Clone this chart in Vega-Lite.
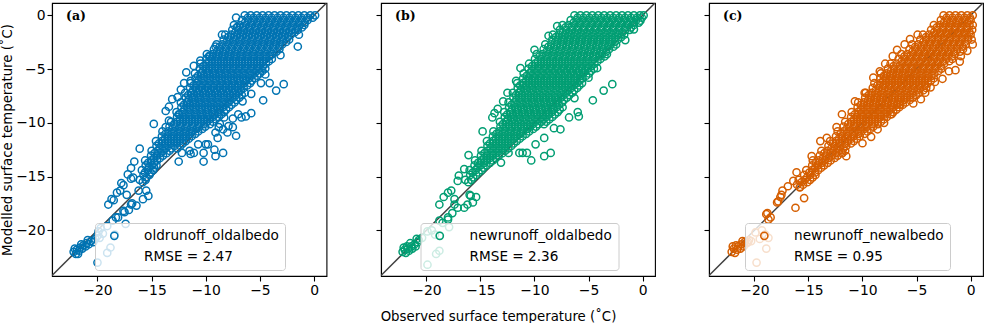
{
"$schema":"https://vega.github.io/schema/vega-lite/v6.json",
"padding":{"left":0,"top":2,"right":0,"bottom":0},
"bounds":"flush",
"spacing":54,
"config":{
"font":"DejaVu Sans",
"view":{"stroke":"black","strokeWidth":1.1},
"axis":{"grid":false,"domainColor":"black","domainWidth":1.1,"tickColor":"black","tickWidth":1.1,"tickSize":5,"labelFont":"DejaVu Sans","labelFontSize":13.9,"labelColor":"black","labelPadding":2,"labelFlush":false,"labelOverlap":false,"titleFont":"DejaVu Sans","titleFontSize":13.3,"titleFontWeight":"normal","titleColor":"black"},
"legend":{"fillColor":"rgba(255,255,255,0.8)","strokeColor":"#cccccc","cornerRadius":3,"padding":6,"labelFont":"DejaVu Sans","labelFontSize":13.6,"labelColor":"black","labelLimit":300,"symbolType":"circle","symbolSize":52,"symbolStrokeWidth":1.5,"symbolFillColor":"transparent","symbolOffset":6.5,"labelOffset":23,"rowPadding":6}
},
"datasets":{
"diag":[{"obs":-26,"mod":-26},{"obs":3,"mod":3}],
"a":[
{"obs":-6.4,"mod":0},{"obs":-5.85,"mod":0},{"obs":-5.3,"mod":0},{"obs":-4.75,"mod":0},{"obs":-4.2,"mod":0},{"obs":-3.65,"mod":0},{"obs":-3.1,"mod":0},{"obs":-2.55,"mod":0},{"obs":-2,"mod":0},{"obs":-1.45,"mod":0},{"obs":-0.9,"mod":0},{"obs":-0.35,"mod":0},{"obs":0.1,"mod":0},
{"obs":-6.65,"mod":-0.45},{"obs":-6.1,"mod":-0.45},{"obs":-5.55,"mod":-0.45},{"obs":-5,"mod":-0.45},{"obs":-4.45,"mod":-0.45},{"obs":-3.9,"mod":-0.45},{"obs":-3.35,"mod":-0.45},{"obs":-2.8,"mod":-0.45},{"obs":-2.25,"mod":-0.45},{"obs":-1.7,"mod":-0.45},{"obs":-1.15,"mod":-0.45},{"obs":-0.6,"mod":-0.45},
{"obs":-7.4,"mod":-0.9},{"obs":-6.85,"mod":-0.9},{"obs":-6.3,"mod":-0.9},{"obs":-5.75,"mod":-0.9},{"obs":-5.2,"mod":-0.9},{"obs":-4.65,"mod":-0.9},{"obs":-4.1,"mod":-0.9},{"obs":-3.55,"mod":-0.9},{"obs":-3,"mod":-0.9},{"obs":-2.45,"mod":-0.9},{"obs":-1.9,"mod":-0.9},{"obs":-1.35,"mod":-0.9},{"obs":-0.9,"mod":-0.9},
{"obs":-7.55,"mod":-1.35},{"obs":-7,"mod":-1.35},{"obs":-6.45,"mod":-1.35},{"obs":-5.9,"mod":-1.35},{"obs":-5.35,"mod":-1.35},{"obs":-4.8,"mod":-1.35},{"obs":-4.25,"mod":-1.35},{"obs":-3.7,"mod":-1.35},{"obs":-3.15,"mod":-1.35},{"obs":-2.6,"mod":-1.35},{"obs":-2.05,"mod":-1.35},{"obs":-1.5,"mod":-1.35},
{"obs":-8.2,"mod":-1.8},{"obs":-7.65,"mod":-1.8},{"obs":-7.1,"mod":-1.8},{"obs":-6.55,"mod":-1.8},{"obs":-6,"mod":-1.8},{"obs":-5.45,"mod":-1.8},{"obs":-4.9,"mod":-1.8},{"obs":-4.35,"mod":-1.8},{"obs":-3.8,"mod":-1.8},{"obs":-3.25,"mod":-1.8},{"obs":-2.7,"mod":-1.8},{"obs":-2.15,"mod":-1.8},
{"obs":-8.35,"mod":-2.25},{"obs":-7.8,"mod":-2.25},{"obs":-7.25,"mod":-2.25},{"obs":-6.7,"mod":-2.25},{"obs":-6.15,"mod":-2.25},{"obs":-5.6,"mod":-2.25},{"obs":-5.05,"mod":-2.25},{"obs":-4.5,"mod":-2.25},{"obs":-3.95,"mod":-2.25},{"obs":-3.4,"mod":-2.25},{"obs":-2.85,"mod":-2.25},{"obs":-2.3,"mod":-2.25},
{"obs":-9,"mod":-2.7},{"obs":-8.45,"mod":-2.7},{"obs":-7.9,"mod":-2.7},{"obs":-7.35,"mod":-2.7},{"obs":-6.8,"mod":-2.7},{"obs":-6.25,"mod":-2.7},{"obs":-5.7,"mod":-2.7},{"obs":-5.15,"mod":-2.7},{"obs":-4.6,"mod":-2.7},{"obs":-4.05,"mod":-2.7},{"obs":-3.5,"mod":-2.7},{"obs":-2.95,"mod":-2.7},
{"obs":-9.25,"mod":-3.15},{"obs":-8.7,"mod":-3.15},{"obs":-8.15,"mod":-3.15},{"obs":-7.6,"mod":-3.15},{"obs":-7.05,"mod":-3.15},{"obs":-6.5,"mod":-3.15},{"obs":-5.95,"mod":-3.15},{"obs":-5.4,"mod":-3.15},{"obs":-4.85,"mod":-3.15},{"obs":-4.3,"mod":-3.15},{"obs":-3.75,"mod":-3.15},{"obs":-3.2,"mod":-3.15},
{"obs":-9.9,"mod":-3.6},{"obs":-9.35,"mod":-3.6},{"obs":-8.8,"mod":-3.6},{"obs":-8.25,"mod":-3.6},{"obs":-7.7,"mod":-3.6},{"obs":-7.15,"mod":-3.6},{"obs":-6.6,"mod":-3.6},{"obs":-6.05,"mod":-3.6},{"obs":-5.5,"mod":-3.6},{"obs":-4.95,"mod":-3.6},{"obs":-4.4,"mod":-3.6},{"obs":-3.85,"mod":-3.6},
{"obs":-9.95,"mod":-4.05},{"obs":-9.4,"mod":-4.05},{"obs":-8.85,"mod":-4.05},{"obs":-8.3,"mod":-4.05},{"obs":-7.75,"mod":-4.05},{"obs":-7.2,"mod":-4.05},{"obs":-6.65,"mod":-4.05},{"obs":-6.1,"mod":-4.05},{"obs":-5.55,"mod":-4.05},{"obs":-5,"mod":-4.05},{"obs":-4.45,"mod":-4.05},{"obs":-3.9,"mod":-4.05},
{"obs":-10.5,"mod":-4.5},{"obs":-9.95,"mod":-4.5},{"obs":-9.4,"mod":-4.5},{"obs":-8.85,"mod":-4.5},{"obs":-8.3,"mod":-4.5},{"obs":-7.75,"mod":-4.5},{"obs":-7.2,"mod":-4.5},{"obs":-6.65,"mod":-4.5},{"obs":-6.1,"mod":-4.5},{"obs":-5.55,"mod":-4.5},{"obs":-5,"mod":-4.5},{"obs":-4.45,"mod":-4.5},
{"obs":-10.55,"mod":-4.95},{"obs":-10,"mod":-4.95},{"obs":-9.45,"mod":-4.95},{"obs":-8.9,"mod":-4.95},{"obs":-8.35,"mod":-4.95},{"obs":-7.8,"mod":-4.95},{"obs":-7.25,"mod":-4.95},{"obs":-6.7,"mod":-4.95},{"obs":-6.15,"mod":-4.95},{"obs":-5.6,"mod":-4.95},{"obs":-5.05,"mod":-4.95},{"obs":-4.5,"mod":-4.95},
{"obs":-11,"mod":-5.4},{"obs":-10.45,"mod":-5.4},{"obs":-9.9,"mod":-5.4},{"obs":-9.35,"mod":-5.4},{"obs":-8.8,"mod":-5.4},{"obs":-8.25,"mod":-5.4},{"obs":-7.7,"mod":-5.4},{"obs":-7.15,"mod":-5.4},{"obs":-6.6,"mod":-5.4},{"obs":-6.05,"mod":-5.4},{"obs":-5.5,"mod":-5.4},{"obs":-5,"mod":-5.4},
{"obs":-10.95,"mod":-5.85},{"obs":-10.4,"mod":-5.85},{"obs":-9.85,"mod":-5.85},{"obs":-9.3,"mod":-5.85},{"obs":-8.75,"mod":-5.85},{"obs":-8.2,"mod":-5.85},{"obs":-7.65,"mod":-5.85},{"obs":-7.1,"mod":-5.85},{"obs":-6.55,"mod":-5.85},{"obs":-6,"mod":-5.85},{"obs":-5.5,"mod":-5.85},
{"obs":-11.4,"mod":-6.3},{"obs":-10.85,"mod":-6.3},{"obs":-10.3,"mod":-6.3},{"obs":-9.75,"mod":-6.3},{"obs":-9.2,"mod":-6.3},{"obs":-8.65,"mod":-6.3},{"obs":-8.1,"mod":-6.3},{"obs":-7.55,"mod":-6.3},{"obs":-7,"mod":-6.3},{"obs":-6.45,"mod":-6.3},{"obs":-5.9,"mod":-6.3},
{"obs":-11.45,"mod":-6.75},{"obs":-10.9,"mod":-6.75},{"obs":-10.35,"mod":-6.75},{"obs":-9.8,"mod":-6.75},{"obs":-9.25,"mod":-6.75},{"obs":-8.7,"mod":-6.75},{"obs":-8.15,"mod":-6.75},{"obs":-7.6,"mod":-6.75},{"obs":-7.05,"mod":-6.75},{"obs":-6.5,"mod":-6.75},
{"obs":-11.9,"mod":-7.2},{"obs":-11.35,"mod":-7.2},{"obs":-10.8,"mod":-7.2},{"obs":-10.25,"mod":-7.2},{"obs":-9.7,"mod":-7.2},{"obs":-9.15,"mod":-7.2},{"obs":-8.6,"mod":-7.2},{"obs":-8.05,"mod":-7.2},{"obs":-7.5,"mod":-7.2},{"obs":-6.95,"mod":-7.2},{"obs":-6.4,"mod":-7.2},
{"obs":-11.85,"mod":-7.65},{"obs":-11.3,"mod":-7.65},{"obs":-10.75,"mod":-7.65},{"obs":-10.2,"mod":-7.65},{"obs":-9.65,"mod":-7.65},{"obs":-9.1,"mod":-7.65},{"obs":-8.55,"mod":-7.65},{"obs":-8,"mod":-7.65},{"obs":-7.45,"mod":-7.65},{"obs":-6.9,"mod":-7.65},
{"obs":-12.3,"mod":-8.1},{"obs":-11.75,"mod":-8.1},{"obs":-11.2,"mod":-8.1},{"obs":-10.65,"mod":-8.1},{"obs":-10.1,"mod":-8.1},{"obs":-9.55,"mod":-8.1},{"obs":-9,"mod":-8.1},{"obs":-8.45,"mod":-8.1},{"obs":-7.9,"mod":-8.1},{"obs":-7.35,"mod":-8.1},
{"obs":-12.25,"mod":-8.55},{"obs":-11.7,"mod":-8.55},{"obs":-11.15,"mod":-8.55},{"obs":-10.6,"mod":-8.55},{"obs":-10.05,"mod":-8.55},{"obs":-9.5,"mod":-8.55},{"obs":-8.95,"mod":-8.55},{"obs":-8.4,"mod":-8.55},{"obs":-7.85,"mod":-8.55},
{"obs":-12.7,"mod":-9},{"obs":-12.15,"mod":-9},{"obs":-11.6,"mod":-9},{"obs":-11.05,"mod":-9},{"obs":-10.5,"mod":-9},{"obs":-9.95,"mod":-9},{"obs":-9.4,"mod":-9},{"obs":-8.85,"mod":-9},{"obs":-8.3,"mod":-9},
{"obs":-12.65,"mod":-9.45},{"obs":-12.1,"mod":-9.45},{"obs":-11.55,"mod":-9.45},{"obs":-11,"mod":-9.45},{"obs":-10.45,"mod":-9.45},{"obs":-9.9,"mod":-9.45},{"obs":-9.35,"mod":-9.45},{"obs":-8.8,"mod":-9.45},
{"obs":-13.2,"mod":-9.9},{"obs":-12.65,"mod":-9.9},{"obs":-12.1,"mod":-9.9},{"obs":-11.55,"mod":-9.9},{"obs":-11,"mod":-9.9},{"obs":-10.45,"mod":-9.9},{"obs":-9.9,"mod":-9.9},{"obs":-9.35,"mod":-9.9},
{"obs":-13.35,"mod":-10.35},{"obs":-12.8,"mod":-10.35},{"obs":-12.25,"mod":-10.35},{"obs":-11.7,"mod":-10.35},{"obs":-11.15,"mod":-10.35},{"obs":-10.6,"mod":-10.35},{"obs":-10.05,"mod":-10.35},
{"obs":-14,"mod":-10.8},{"obs":-13.45,"mod":-10.8},{"obs":-12.9,"mod":-10.8},{"obs":-12.35,"mod":-10.8},{"obs":-11.8,"mod":-10.8},{"obs":-11.25,"mod":-10.8},{"obs":-10.7,"mod":-10.8},
{"obs":-14.05,"mod":-11.25},{"obs":-13.5,"mod":-11.25},{"obs":-12.95,"mod":-11.25},{"obs":-12.4,"mod":-11.25},{"obs":-11.85,"mod":-11.25},{"obs":-11.3,"mod":-11.25},
{"obs":-14.6,"mod":-11.7},{"obs":-14.05,"mod":-11.7},{"obs":-13.5,"mod":-11.7},{"obs":-12.95,"mod":-11.7},{"obs":-12.4,"mod":-11.7},{"obs":-11.85,"mod":-11.7},
{"obs":-14.55,"mod":-12.15},{"obs":-14,"mod":-12.15},{"obs":-13.45,"mod":-12.15},{"obs":-12.9,"mod":-12.15},{"obs":-12.35,"mod":-12.15},
{"obs":-15,"mod":-12.6},{"obs":-14.45,"mod":-12.6},{"obs":-13.9,"mod":-12.6},{"obs":-13.35,"mod":-12.6},
{"obs":-15.05,"mod":-13.05},{"obs":-14.5,"mod":-13.05},{"obs":-13.95,"mod":-13.05},
{"obs":-15.6,"mod":-13.5},{"obs":-15.05,"mod":-13.5},{"obs":-14.5,"mod":-13.5},
{"obs":-15.55,"mod":-13.95},{"obs":-15,"mod":-13.95},{"obs":-14.55,"mod":-13.95},
{"obs":-15.9,"mod":-14.4},{"obs":-15.35,"mod":-14.4},{"obs":-14.85,"mod":-14.4},
{"obs":-15.75,"mod":-14.85},{"obs":-15.2,"mod":-14.85},
{"obs":-16.1,"mod":-15.3},{"obs":-15.55,"mod":-15.3},
{"obs":-6.12,"mod":-0.22},{"obs":-5.57,"mod":-0.22},{"obs":-5.02,"mod":-0.22},{"obs":-4.47,"mod":-0.22},{"obs":-3.92,"mod":-0.22},{"obs":-3.37,"mod":-0.22},{"obs":-2.82,"mod":-0.22},{"obs":-2.27,"mod":-0.22},{"obs":-1.72,"mod":-0.22},{"obs":-1.17,"mod":-0.22},{"obs":-0.62,"mod":-0.22},{"obs":-0.12,"mod":-0.22},
{"obs":-6.37,"mod":-0.67},{"obs":-5.82,"mod":-0.67},{"obs":-5.27,"mod":-0.67},{"obs":-4.72,"mod":-0.67},{"obs":-4.17,"mod":-0.67},{"obs":-3.62,"mod":-0.67},{"obs":-3.07,"mod":-0.67},{"obs":-2.52,"mod":-0.67},{"obs":-1.97,"mod":-0.67},{"obs":-1.42,"mod":-0.67},{"obs":-0.87,"mod":-0.67},
{"obs":-7.12,"mod":-1.12},{"obs":-6.57,"mod":-1.12},{"obs":-6.02,"mod":-1.12},{"obs":-5.47,"mod":-1.12},{"obs":-4.92,"mod":-1.12},{"obs":-4.37,"mod":-1.12},{"obs":-3.82,"mod":-1.12},{"obs":-3.27,"mod":-1.12},{"obs":-2.72,"mod":-1.12},{"obs":-2.17,"mod":-1.12},{"obs":-1.62,"mod":-1.12},{"obs":-1.12,"mod":-1.12},
{"obs":-7.27,"mod":-1.57},{"obs":-6.72,"mod":-1.57},{"obs":-6.17,"mod":-1.57},{"obs":-5.62,"mod":-1.57},{"obs":-5.07,"mod":-1.57},{"obs":-4.52,"mod":-1.57},{"obs":-3.97,"mod":-1.57},{"obs":-3.42,"mod":-1.57},{"obs":-2.87,"mod":-1.57},{"obs":-2.32,"mod":-1.57},{"obs":-1.77,"mod":-1.57},
{"obs":-7.92,"mod":-2.02},{"obs":-7.37,"mod":-2.02},{"obs":-6.82,"mod":-2.02},{"obs":-6.27,"mod":-2.02},{"obs":-5.72,"mod":-2.02},{"obs":-5.17,"mod":-2.02},{"obs":-4.62,"mod":-2.02},{"obs":-4.07,"mod":-2.02},{"obs":-3.52,"mod":-2.02},{"obs":-2.97,"mod":-2.02},{"obs":-2.42,"mod":-2.02},
{"obs":-8.07,"mod":-2.47},{"obs":-7.52,"mod":-2.47},{"obs":-6.97,"mod":-2.47},{"obs":-6.42,"mod":-2.47},{"obs":-5.87,"mod":-2.47},{"obs":-5.32,"mod":-2.47},{"obs":-4.77,"mod":-2.47},{"obs":-4.22,"mod":-2.47},{"obs":-3.67,"mod":-2.47},{"obs":-3.12,"mod":-2.47},{"obs":-2.57,"mod":-2.47},
{"obs":-8.72,"mod":-2.92},{"obs":-8.17,"mod":-2.92},{"obs":-7.62,"mod":-2.92},{"obs":-7.07,"mod":-2.92},{"obs":-6.52,"mod":-2.92},{"obs":-5.97,"mod":-2.92},{"obs":-5.42,"mod":-2.92},{"obs":-4.87,"mod":-2.92},{"obs":-4.32,"mod":-2.92},{"obs":-3.77,"mod":-2.92},{"obs":-3.22,"mod":-2.92},
{"obs":-8.97,"mod":-3.37},{"obs":-8.42,"mod":-3.37},{"obs":-7.87,"mod":-3.37},{"obs":-7.32,"mod":-3.37},{"obs":-6.77,"mod":-3.37},{"obs":-6.22,"mod":-3.37},{"obs":-5.67,"mod":-3.37},{"obs":-5.12,"mod":-3.37},{"obs":-4.57,"mod":-3.37},{"obs":-4.02,"mod":-3.37},{"obs":-3.47,"mod":-3.37},
{"obs":-9.62,"mod":-3.82},{"obs":-9.07,"mod":-3.82},{"obs":-8.52,"mod":-3.82},{"obs":-7.97,"mod":-3.82},{"obs":-7.42,"mod":-3.82},{"obs":-6.87,"mod":-3.82},{"obs":-6.32,"mod":-3.82},{"obs":-5.77,"mod":-3.82},{"obs":-5.22,"mod":-3.82},{"obs":-4.67,"mod":-3.82},{"obs":-4.12,"mod":-3.82},
{"obs":-9.67,"mod":-4.27},{"obs":-9.12,"mod":-4.27},{"obs":-8.57,"mod":-4.27},{"obs":-8.02,"mod":-4.27},{"obs":-7.47,"mod":-4.27},{"obs":-6.92,"mod":-4.27},{"obs":-6.37,"mod":-4.27},{"obs":-5.82,"mod":-4.27},{"obs":-5.27,"mod":-4.27},{"obs":-4.72,"mod":-4.27},{"obs":-4.17,"mod":-4.27},
{"obs":-10.22,"mod":-4.72},{"obs":-9.67,"mod":-4.72},{"obs":-9.12,"mod":-4.72},{"obs":-8.57,"mod":-4.72},{"obs":-8.02,"mod":-4.72},{"obs":-7.47,"mod":-4.72},{"obs":-6.92,"mod":-4.72},{"obs":-6.37,"mod":-4.72},{"obs":-5.82,"mod":-4.72},{"obs":-5.27,"mod":-4.72},{"obs":-4.72,"mod":-4.72},
{"obs":-10.27,"mod":-5.17},{"obs":-9.72,"mod":-5.17},{"obs":-9.17,"mod":-5.17},{"obs":-8.62,"mod":-5.17},{"obs":-8.07,"mod":-5.17},{"obs":-7.52,"mod":-5.17},{"obs":-6.97,"mod":-5.17},{"obs":-6.42,"mod":-5.17},{"obs":-5.87,"mod":-5.17},{"obs":-5.32,"mod":-5.17},{"obs":-4.77,"mod":-5.17},
{"obs":-10.72,"mod":-5.62},{"obs":-10.17,"mod":-5.62},{"obs":-9.62,"mod":-5.62},{"obs":-9.07,"mod":-5.62},{"obs":-8.52,"mod":-5.62},{"obs":-7.97,"mod":-5.62},{"obs":-7.42,"mod":-5.62},{"obs":-6.87,"mod":-5.62},{"obs":-6.32,"mod":-5.62},{"obs":-5.77,"mod":-5.62},{"obs":-5.25,"mod":-5.62},
{"obs":-10.67,"mod":-6.07},{"obs":-10.12,"mod":-6.07},{"obs":-9.57,"mod":-6.07},{"obs":-9.02,"mod":-6.07},{"obs":-8.47,"mod":-6.07},{"obs":-7.92,"mod":-6.07},{"obs":-7.37,"mod":-6.07},{"obs":-6.82,"mod":-6.07},{"obs":-6.27,"mod":-6.07},{"obs":-5.75,"mod":-6.07},
{"obs":-11.12,"mod":-6.52},{"obs":-10.57,"mod":-6.52},{"obs":-10.02,"mod":-6.52},{"obs":-9.47,"mod":-6.52},{"obs":-8.92,"mod":-6.52},{"obs":-8.37,"mod":-6.52},{"obs":-7.82,"mod":-6.52},{"obs":-7.27,"mod":-6.52},{"obs":-6.72,"mod":-6.52},{"obs":-6.17,"mod":-6.52},
{"obs":-11.17,"mod":-6.97},{"obs":-10.62,"mod":-6.97},{"obs":-10.07,"mod":-6.97},{"obs":-9.52,"mod":-6.97},{"obs":-8.97,"mod":-6.97},{"obs":-8.42,"mod":-6.97},{"obs":-7.87,"mod":-6.97},{"obs":-7.32,"mod":-6.97},{"obs":-6.77,"mod":-6.97},
{"obs":-11.62,"mod":-7.42},{"obs":-11.07,"mod":-7.42},{"obs":-10.52,"mod":-7.42},{"obs":-9.97,"mod":-7.42},{"obs":-9.42,"mod":-7.42},{"obs":-8.87,"mod":-7.42},{"obs":-8.32,"mod":-7.42},{"obs":-7.77,"mod":-7.42},{"obs":-7.22,"mod":-7.42},{"obs":-6.67,"mod":-7.42},
{"obs":-11.57,"mod":-7.87},{"obs":-11.02,"mod":-7.87},{"obs":-10.47,"mod":-7.87},{"obs":-9.92,"mod":-7.87},{"obs":-9.37,"mod":-7.87},{"obs":-8.82,"mod":-7.87},{"obs":-8.27,"mod":-7.87},{"obs":-7.72,"mod":-7.87},{"obs":-7.17,"mod":-7.87},
{"obs":-12.02,"mod":-8.32},{"obs":-11.47,"mod":-8.32},{"obs":-10.92,"mod":-8.32},{"obs":-10.37,"mod":-8.32},{"obs":-9.82,"mod":-8.32},{"obs":-9.27,"mod":-8.32},{"obs":-8.72,"mod":-8.32},{"obs":-8.17,"mod":-8.32},{"obs":-7.62,"mod":-8.32},
{"obs":-11.97,"mod":-8.77},{"obs":-11.42,"mod":-8.77},{"obs":-10.87,"mod":-8.77},{"obs":-10.32,"mod":-8.77},{"obs":-9.77,"mod":-8.77},{"obs":-9.22,"mod":-8.77},{"obs":-8.67,"mod":-8.77},{"obs":-8.12,"mod":-8.77},
{"obs":-12.42,"mod":-9.22},{"obs":-11.87,"mod":-9.22},{"obs":-11.32,"mod":-9.22},{"obs":-10.77,"mod":-9.22},{"obs":-10.22,"mod":-9.22},{"obs":-9.67,"mod":-9.22},{"obs":-9.12,"mod":-9.22},{"obs":-8.57,"mod":-9.22},
{"obs":-12.37,"mod":-9.67},{"obs":-11.82,"mod":-9.67},{"obs":-11.27,"mod":-9.67},{"obs":-10.72,"mod":-9.67},{"obs":-10.17,"mod":-9.67},{"obs":-9.62,"mod":-9.67},{"obs":-9.07,"mod":-9.67},
{"obs":-12.92,"mod":-10.12},{"obs":-12.37,"mod":-10.12},{"obs":-11.82,"mod":-10.12},{"obs":-11.27,"mod":-10.12},{"obs":-10.72,"mod":-10.12},{"obs":-10.17,"mod":-10.12},{"obs":-9.62,"mod":-10.12},
{"obs":-13.07,"mod":-10.57},{"obs":-12.52,"mod":-10.57},{"obs":-11.97,"mod":-10.57},{"obs":-11.42,"mod":-10.57},{"obs":-10.87,"mod":-10.57},{"obs":-10.32,"mod":-10.57},
{"obs":-13.72,"mod":-11.02},{"obs":-13.17,"mod":-11.02},{"obs":-12.62,"mod":-11.02},{"obs":-12.07,"mod":-11.02},{"obs":-11.52,"mod":-11.02},{"obs":-10.97,"mod":-11.02},
{"obs":-13.77,"mod":-11.47},{"obs":-13.22,"mod":-11.47},{"obs":-12.67,"mod":-11.47},{"obs":-12.12,"mod":-11.47},{"obs":-11.57,"mod":-11.47},
{"obs":-14.32,"mod":-11.92},{"obs":-13.77,"mod":-11.92},{"obs":-13.22,"mod":-11.92},{"obs":-12.67,"mod":-11.92},{"obs":-12.12,"mod":-11.92},
{"obs":-14.27,"mod":-12.37},{"obs":-13.72,"mod":-12.37},{"obs":-13.17,"mod":-12.37},{"obs":-12.62,"mod":-12.37},
{"obs":-14.72,"mod":-12.82},{"obs":-14.17,"mod":-12.82},{"obs":-13.62,"mod":-12.82},
{"obs":-14.77,"mod":-13.27},{"obs":-14.22,"mod":-13.27},
{"obs":-15.32,"mod":-13.72},{"obs":-14.77,"mod":-13.72},
{"obs":-15.27,"mod":-14.17},{"obs":-14.77,"mod":-14.17},
{"obs":-15.62,"mod":-14.62},{"obs":-15.1,"mod":-14.62},
{"obs":-15.47,"mod":-15.07},{"obs":-15.82,"mod":-15.52},
{"obs":-7.2,"mod":-0.2},{"obs":-7.1,"mod":-1.1},{"obs":-8.5,"mod":-1.8},{"obs":-9.1,"mod":-2.9},{"obs":-9.7,"mod":-3.8},{"obs":-10.5,"mod":-4.2},{"obs":-11.1,"mod":-4.7},{"obs":-11.8,"mod":-5.3},{"obs":-11.4,"mod":-6.1},{"obs":-12.3,"mod":-6.9},{"obs":-13.1,"mod":-7.8},{"obs":-12.6,"mod":-7.6},{"obs":-13.7,"mod":-8.9},{"obs":-13.4,"mod":-8.5},{"obs":-13.4,"mod":-9.8},{"obs":-12.5,"mod":-9.2},{"obs":-13.7,"mod":-10.4},{"obs":-14.8,"mod":-10.1},{"obs":-12,"mod":-6.3},
{"obs":-1.4,"mod":-1.8},{"obs":-1.5,"mod":-2.9},{"obs":-3.1,"mod":-3.7},{"obs":-2.8,"mod":-6.4},{"obs":-3.5,"mod":-7},{"obs":-4.7,"mod":-7.9},{"obs":-4.9,"mod":-6.3},{"obs":-4.1,"mod":-6.3},{"obs":-4.5,"mod":-5.5},{"obs":-5.8,"mod":-7.3},{"obs":-6.6,"mod":-8},{"obs":-5.8,"mod":-9.1},{"obs":-6.7,"mod":-9.5},{"obs":-7.5,"mod":-9.6},{"obs":-8.3,"mod":-9.5},{"obs":-8.8,"mod":-10.4},{"obs":-9.1,"mod":-10.9},{"obs":-8.9,"mod":-11.4},{"obs":-8,"mod":-10.9},{"obs":-7.5,"mod":-10.4},{"obs":-7.2,"mod":-11.2},{"obs":-8.4,"mod":-10.6},{"obs":-10,"mod":-12},{"obs":-10.7,"mod":-12},{"obs":-9.8,"mod":-12},{"obs":-10.2,"mod":-12.8},{"obs":-9.2,"mod":-12.5},{"obs":-8.4,"mod":-12.8},{"obs":-9.1,"mod":-13.1},{"obs":-10.2,"mod":-13.6},{"obs":-11.1,"mod":-12.8},{"obs":-11.4,"mod":-12.9},{"obs":-11.5,"mod":-12.6},{"obs":-12.2,"mod":-12.8},{"obs":-12.5,"mod":-13.6},{"obs":-6.3,"mod":-9.4},{"obs":-7,"mod":-9.2},{"obs":-7.9,"mod":-10.3},{"obs":-8.7,"mod":-10.1},
{"obs":-16.1,"mod":-12.4},{"obs":-16.6,"mod":-13.6},{"obs":-16.9,"mod":-14.2},{"obs":-17.2,"mod":-14.8},{"obs":-16.9,"mod":-15.2},{"obs":-17.8,"mod":-15.6},{"obs":-17.6,"mod":-15.8},{"obs":-17.9,"mod":-16.3},{"obs":-18.2,"mod":-16.5},{"obs":-17.3,"mod":-16.7},{"obs":-18.7,"mod":-17.1},{"obs":-19,"mod":-17.6},{"obs":-18.5,"mod":-17.2},{"obs":-16.7,"mod":-15.1},{"obs":-15.5,"mod":-16.3},{"obs":-15.3,"mod":-16.8},{"obs":-15.8,"mod":-17.1},{"obs":-16.9,"mod":-17.6},{"obs":-16.4,"mod":-17.7},{"obs":-17.6,"mod":-18.2},{"obs":-18.1,"mod":-18.8},{"obs":-17.1,"mod":-18.1},{"obs":-17.5,"mod":-18.3},{"obs":-18.6,"mod":-19.1},{"obs":-19.1,"mod":-19.6},{"obs":-18.3,"mod":-18.8},{"obs":-16.8,"mod":-17.5},{"obs":-16.2,"mod":-16.3},
{"obs":-18.4,"mod":-20.4},{"obs":-19.8,"mod":-20.7},{"obs":-19.5,"mod":-20.3},{"obs":-20,"mod":-20.5},{"obs":-18.8,"mod":-21.6},{"obs":-19.1,"mod":-22.1},{"obs":-20,"mod":-23},{"obs":-19.9,"mod":-20.1},{"obs":-17.4,"mod":-19.4},{"obs":-19.7,"mod":-19.8},
{"obs":-22.2,"mod":-22},{"obs":-22,"mod":-22.2},{"obs":-21.9,"mod":-21.8},{"obs":-21.7,"mod":-21.9},{"obs":-21.6,"mod":-21.6},{"obs":-21.4,"mod":-21.7},{"obs":-21.3,"mod":-21.4},{"obs":-21.1,"mod":-21.5},{"obs":-21,"mod":-21.2},{"obs":-20.8,"mod":-21.3},{"obs":-20.6,"mod":-21},{"obs":-20.4,"mod":-21.1},{"obs":-20.2,"mod":-20.8},{"obs":-21.8,"mod":-22.2},{"obs":-21.5,"mod":-21.3},{"obs":-20.9,"mod":-20.9},{"obs":-22.1,"mod":-21.7}
],
"b":[
{"obs":-6.3,"mod":0},{"obs":-5.75,"mod":0},{"obs":-5.2,"mod":0},{"obs":-4.65,"mod":0},{"obs":-4.1,"mod":0},{"obs":-3.55,"mod":0},{"obs":-3,"mod":0},{"obs":-2.45,"mod":0},{"obs":-1.9,"mod":0},{"obs":-1.35,"mod":0},{"obs":-0.8,"mod":0},{"obs":-0.25,"mod":0},{"obs":0.1,"mod":0},
{"obs":-6.65,"mod":-0.45},{"obs":-6.1,"mod":-0.45},{"obs":-5.55,"mod":-0.45},{"obs":-5,"mod":-0.45},{"obs":-4.45,"mod":-0.45},{"obs":-3.9,"mod":-0.45},{"obs":-3.35,"mod":-0.45},{"obs":-2.8,"mod":-0.45},{"obs":-2.25,"mod":-0.45},{"obs":-1.7,"mod":-0.45},{"obs":-1.15,"mod":-0.45},{"obs":-0.6,"mod":-0.45},
{"obs":-7.4,"mod":-0.9},{"obs":-6.85,"mod":-0.9},{"obs":-6.3,"mod":-0.9},{"obs":-5.75,"mod":-0.9},{"obs":-5.2,"mod":-0.9},{"obs":-4.65,"mod":-0.9},{"obs":-4.1,"mod":-0.9},{"obs":-3.55,"mod":-0.9},{"obs":-3,"mod":-0.9},{"obs":-2.45,"mod":-0.9},{"obs":-1.9,"mod":-0.9},{"obs":-1.35,"mod":-0.9},{"obs":-0.8,"mod":-0.9},
{"obs":-7.65,"mod":-1.35},{"obs":-7.1,"mod":-1.35},{"obs":-6.55,"mod":-1.35},{"obs":-6,"mod":-1.35},{"obs":-5.45,"mod":-1.35},{"obs":-4.9,"mod":-1.35},{"obs":-4.35,"mod":-1.35},{"obs":-3.8,"mod":-1.35},{"obs":-3.25,"mod":-1.35},{"obs":-2.7,"mod":-1.35},{"obs":-2.15,"mod":-1.35},{"obs":-1.6,"mod":-1.35},{"obs":-1.2,"mod":-1.35},
{"obs":-8.3,"mod":-1.8},{"obs":-7.75,"mod":-1.8},{"obs":-7.2,"mod":-1.8},{"obs":-6.65,"mod":-1.8},{"obs":-6.1,"mod":-1.8},{"obs":-5.55,"mod":-1.8},{"obs":-5,"mod":-1.8},{"obs":-4.45,"mod":-1.8},{"obs":-3.9,"mod":-1.8},{"obs":-3.35,"mod":-1.8},{"obs":-2.8,"mod":-1.8},{"obs":-2.25,"mod":-1.8},{"obs":-1.7,"mod":-1.8},
{"obs":-8.35,"mod":-2.25},{"obs":-7.8,"mod":-2.25},{"obs":-7.25,"mod":-2.25},{"obs":-6.7,"mod":-2.25},{"obs":-6.15,"mod":-2.25},{"obs":-5.6,"mod":-2.25},{"obs":-5.05,"mod":-2.25},{"obs":-4.5,"mod":-2.25},{"obs":-3.95,"mod":-2.25},{"obs":-3.4,"mod":-2.25},{"obs":-2.85,"mod":-2.25},{"obs":-2.3,"mod":-2.25},
{"obs":-9,"mod":-2.7},{"obs":-8.45,"mod":-2.7},{"obs":-7.9,"mod":-2.7},{"obs":-7.35,"mod":-2.7},{"obs":-6.8,"mod":-2.7},{"obs":-6.25,"mod":-2.7},{"obs":-5.7,"mod":-2.7},{"obs":-5.15,"mod":-2.7},{"obs":-4.6,"mod":-2.7},{"obs":-4.05,"mod":-2.7},{"obs":-3.5,"mod":-2.7},{"obs":-2.95,"mod":-2.7},{"obs":-2.45,"mod":-2.7},
{"obs":-9.15,"mod":-3.15},{"obs":-8.6,"mod":-3.15},{"obs":-8.05,"mod":-3.15},{"obs":-7.5,"mod":-3.15},{"obs":-6.95,"mod":-3.15},{"obs":-6.4,"mod":-3.15},{"obs":-5.85,"mod":-3.15},{"obs":-5.3,"mod":-3.15},{"obs":-4.75,"mod":-3.15},{"obs":-4.2,"mod":-3.15},{"obs":-3.65,"mod":-3.15},{"obs":-3.1,"mod":-3.15},
{"obs":-9.8,"mod":-3.6},{"obs":-9.25,"mod":-3.6},{"obs":-8.7,"mod":-3.6},{"obs":-8.15,"mod":-3.6},{"obs":-7.6,"mod":-3.6},{"obs":-7.05,"mod":-3.6},{"obs":-6.5,"mod":-3.6},{"obs":-5.95,"mod":-3.6},{"obs":-5.4,"mod":-3.6},{"obs":-4.85,"mod":-3.6},{"obs":-4.3,"mod":-3.6},{"obs":-3.75,"mod":-3.6},{"obs":-3.3,"mod":-3.6},
{"obs":-9.95,"mod":-4.05},{"obs":-9.4,"mod":-4.05},{"obs":-8.85,"mod":-4.05},{"obs":-8.3,"mod":-4.05},{"obs":-7.75,"mod":-4.05},{"obs":-7.2,"mod":-4.05},{"obs":-6.65,"mod":-4.05},{"obs":-6.1,"mod":-4.05},{"obs":-5.55,"mod":-4.05},{"obs":-5,"mod":-4.05},{"obs":-4.45,"mod":-4.05},{"obs":-3.9,"mod":-4.05},
{"obs":-10.5,"mod":-4.5},{"obs":-9.95,"mod":-4.5},{"obs":-9.4,"mod":-4.5},{"obs":-8.85,"mod":-4.5},{"obs":-8.3,"mod":-4.5},{"obs":-7.75,"mod":-4.5},{"obs":-7.2,"mod":-4.5},{"obs":-6.65,"mod":-4.5},{"obs":-6.1,"mod":-4.5},{"obs":-5.55,"mod":-4.5},{"obs":-5,"mod":-4.5},{"obs":-4.45,"mod":-4.5},
{"obs":-10.55,"mod":-4.95},{"obs":-10,"mod":-4.95},{"obs":-9.45,"mod":-4.95},{"obs":-8.9,"mod":-4.95},{"obs":-8.35,"mod":-4.95},{"obs":-7.8,"mod":-4.95},{"obs":-7.25,"mod":-4.95},{"obs":-6.7,"mod":-4.95},{"obs":-6.15,"mod":-4.95},{"obs":-5.6,"mod":-4.95},{"obs":-5.05,"mod":-4.95},{"obs":-4.5,"mod":-4.95},
{"obs":-11,"mod":-5.4},{"obs":-10.45,"mod":-5.4},{"obs":-9.9,"mod":-5.4},{"obs":-9.35,"mod":-5.4},{"obs":-8.8,"mod":-5.4},{"obs":-8.25,"mod":-5.4},{"obs":-7.7,"mod":-5.4},{"obs":-7.15,"mod":-5.4},{"obs":-6.6,"mod":-5.4},{"obs":-6.05,"mod":-5.4},{"obs":-5.5,"mod":-5.4},{"obs":-4.95,"mod":-5.4},
{"obs":-11.05,"mod":-5.85},{"obs":-10.5,"mod":-5.85},{"obs":-9.95,"mod":-5.85},{"obs":-9.4,"mod":-5.85},{"obs":-8.85,"mod":-5.85},{"obs":-8.3,"mod":-5.85},{"obs":-7.75,"mod":-5.85},{"obs":-7.2,"mod":-5.85},{"obs":-6.65,"mod":-5.85},{"obs":-6.1,"mod":-5.85},{"obs":-5.55,"mod":-5.85},
{"obs":-11.6,"mod":-6.3},{"obs":-11.05,"mod":-6.3},{"obs":-10.5,"mod":-6.3},{"obs":-9.95,"mod":-6.3},{"obs":-9.4,"mod":-6.3},{"obs":-8.85,"mod":-6.3},{"obs":-8.3,"mod":-6.3},{"obs":-7.75,"mod":-6.3},{"obs":-7.2,"mod":-6.3},{"obs":-6.65,"mod":-6.3},{"obs":-6.1,"mod":-6.3},{"obs":-5.6,"mod":-6.3},
{"obs":-11.55,"mod":-6.75},{"obs":-11,"mod":-6.75},{"obs":-10.45,"mod":-6.75},{"obs":-9.9,"mod":-6.75},{"obs":-9.35,"mod":-6.75},{"obs":-8.8,"mod":-6.75},{"obs":-8.25,"mod":-6.75},{"obs":-7.7,"mod":-6.75},{"obs":-7.15,"mod":-6.75},{"obs":-6.6,"mod":-6.75},{"obs":-6.05,"mod":-6.75},
{"obs":-12,"mod":-7.2},{"obs":-11.45,"mod":-7.2},{"obs":-10.9,"mod":-7.2},{"obs":-10.35,"mod":-7.2},{"obs":-9.8,"mod":-7.2},{"obs":-9.25,"mod":-7.2},{"obs":-8.7,"mod":-7.2},{"obs":-8.15,"mod":-7.2},{"obs":-7.6,"mod":-7.2},{"obs":-7.05,"mod":-7.2},{"obs":-6.5,"mod":-7.2},
{"obs":-11.95,"mod":-7.65},{"obs":-11.4,"mod":-7.65},{"obs":-10.85,"mod":-7.65},{"obs":-10.3,"mod":-7.65},{"obs":-9.75,"mod":-7.65},{"obs":-9.2,"mod":-7.65},{"obs":-8.65,"mod":-7.65},{"obs":-8.1,"mod":-7.65},{"obs":-7.55,"mod":-7.65},{"obs":-7,"mod":-7.65},
{"obs":-12.4,"mod":-8.1},{"obs":-11.85,"mod":-8.1},{"obs":-11.3,"mod":-8.1},{"obs":-10.75,"mod":-8.1},{"obs":-10.2,"mod":-8.1},{"obs":-9.65,"mod":-8.1},{"obs":-9.1,"mod":-8.1},{"obs":-8.55,"mod":-8.1},{"obs":-8,"mod":-8.1},{"obs":-7.45,"mod":-8.1},
{"obs":-12.35,"mod":-8.55},{"obs":-11.8,"mod":-8.55},{"obs":-11.25,"mod":-8.55},{"obs":-10.7,"mod":-8.55},{"obs":-10.15,"mod":-8.55},{"obs":-9.6,"mod":-8.55},{"obs":-9.05,"mod":-8.55},{"obs":-8.5,"mod":-8.55},{"obs":-7.95,"mod":-8.55},{"obs":-7.4,"mod":-8.55},
{"obs":-12.8,"mod":-9},{"obs":-12.25,"mod":-9},{"obs":-11.7,"mod":-9},{"obs":-11.15,"mod":-9},{"obs":-10.6,"mod":-9},{"obs":-10.05,"mod":-9},{"obs":-9.5,"mod":-9},{"obs":-8.95,"mod":-9},{"obs":-8.4,"mod":-9},{"obs":-7.85,"mod":-9},
{"obs":-12.75,"mod":-9.45},{"obs":-12.2,"mod":-9.45},{"obs":-11.65,"mod":-9.45},{"obs":-11.1,"mod":-9.45},{"obs":-10.55,"mod":-9.45},{"obs":-10,"mod":-9.45},{"obs":-9.45,"mod":-9.45},{"obs":-8.9,"mod":-9.45},{"obs":-8.35,"mod":-9.45},
{"obs":-13.2,"mod":-9.9},{"obs":-12.65,"mod":-9.9},{"obs":-12.1,"mod":-9.9},{"obs":-11.55,"mod":-9.9},{"obs":-11,"mod":-9.9},{"obs":-10.45,"mod":-9.9},{"obs":-9.9,"mod":-9.9},{"obs":-9.35,"mod":-9.9},{"obs":-8.9,"mod":-9.9},
{"obs":-13.15,"mod":-10.35},{"obs":-12.6,"mod":-10.35},{"obs":-12.05,"mod":-10.35},{"obs":-11.5,"mod":-10.35},{"obs":-10.95,"mod":-10.35},{"obs":-10.4,"mod":-10.35},{"obs":-9.85,"mod":-10.35},
{"obs":-13.8,"mod":-10.8},{"obs":-13.25,"mod":-10.8},{"obs":-12.7,"mod":-10.8},{"obs":-12.15,"mod":-10.8},{"obs":-11.6,"mod":-10.8},{"obs":-11.05,"mod":-10.8},{"obs":-10.5,"mod":-10.8},
{"obs":-13.85,"mod":-11.25},{"obs":-13.3,"mod":-11.25},{"obs":-12.75,"mod":-11.25},{"obs":-12.2,"mod":-11.25},{"obs":-11.65,"mod":-11.25},{"obs":-11.1,"mod":-11.25},
{"obs":-14.4,"mod":-11.7},{"obs":-13.85,"mod":-11.7},{"obs":-13.3,"mod":-11.7},{"obs":-12.75,"mod":-11.7},{"obs":-12.2,"mod":-11.7},{"obs":-11.65,"mod":-11.7},
{"obs":-14.35,"mod":-12.15},{"obs":-13.8,"mod":-12.15},{"obs":-13.25,"mod":-12.15},{"obs":-12.7,"mod":-12.15},{"obs":-12.15,"mod":-12.15},
{"obs":-14.9,"mod":-12.6},{"obs":-14.35,"mod":-12.6},{"obs":-13.8,"mod":-12.6},{"obs":-13.25,"mod":-12.6},{"obs":-12.7,"mod":-12.6},
{"obs":-14.95,"mod":-13.05},{"obs":-14.4,"mod":-13.05},{"obs":-13.85,"mod":-13.05},{"obs":-13.3,"mod":-13.05},
{"obs":-15.5,"mod":-13.5},{"obs":-14.95,"mod":-13.5},{"obs":-14.4,"mod":-13.5},{"obs":-13.85,"mod":-13.5},
{"obs":-15.55,"mod":-13.95},{"obs":-15,"mod":-13.95},{"obs":-14.45,"mod":-13.95},
{"obs":-16,"mod":-14.4},{"obs":-15.45,"mod":-14.4},{"obs":-14.9,"mod":-14.4},
{"obs":-15.95,"mod":-14.85},{"obs":-15.4,"mod":-14.85},
{"obs":-16.4,"mod":-15.3},{"obs":-15.85,"mod":-15.3},
{"obs":-6.02,"mod":-0.22},{"obs":-5.47,"mod":-0.22},{"obs":-4.92,"mod":-0.22},{"obs":-4.37,"mod":-0.22},{"obs":-3.82,"mod":-0.22},{"obs":-3.27,"mod":-0.22},{"obs":-2.72,"mod":-0.22},{"obs":-2.17,"mod":-0.22},{"obs":-1.62,"mod":-0.22},{"obs":-1.07,"mod":-0.22},{"obs":-0.52,"mod":-0.22},{"obs":-0.07,"mod":-0.22},
{"obs":-6.37,"mod":-0.67},{"obs":-5.82,"mod":-0.67},{"obs":-5.27,"mod":-0.67},{"obs":-4.72,"mod":-0.67},{"obs":-4.17,"mod":-0.67},{"obs":-3.62,"mod":-0.67},{"obs":-3.07,"mod":-0.67},{"obs":-2.52,"mod":-0.67},{"obs":-1.97,"mod":-0.67},{"obs":-1.42,"mod":-0.67},{"obs":-0.87,"mod":-0.67},{"obs":-0.35,"mod":-0.67},
{"obs":-7.12,"mod":-1.12},{"obs":-6.57,"mod":-1.12},{"obs":-6.02,"mod":-1.12},{"obs":-5.47,"mod":-1.12},{"obs":-4.92,"mod":-1.12},{"obs":-4.37,"mod":-1.12},{"obs":-3.82,"mod":-1.12},{"obs":-3.27,"mod":-1.12},{"obs":-2.72,"mod":-1.12},{"obs":-2.17,"mod":-1.12},{"obs":-1.62,"mod":-1.12},{"obs":-1.07,"mod":-1.12},
{"obs":-7.37,"mod":-1.57},{"obs":-6.82,"mod":-1.57},{"obs":-6.27,"mod":-1.57},{"obs":-5.72,"mod":-1.57},{"obs":-5.17,"mod":-1.57},{"obs":-4.62,"mod":-1.57},{"obs":-4.07,"mod":-1.57},{"obs":-3.52,"mod":-1.57},{"obs":-2.97,"mod":-1.57},{"obs":-2.42,"mod":-1.57},{"obs":-1.87,"mod":-1.57},
{"obs":-8.02,"mod":-2.02},{"obs":-7.47,"mod":-2.02},{"obs":-6.92,"mod":-2.02},{"obs":-6.37,"mod":-2.02},{"obs":-5.82,"mod":-2.02},{"obs":-5.27,"mod":-2.02},{"obs":-4.72,"mod":-2.02},{"obs":-4.17,"mod":-2.02},{"obs":-3.62,"mod":-2.02},{"obs":-3.07,"mod":-2.02},{"obs":-2.52,"mod":-2.02},{"obs":-1.97,"mod":-2.02},
{"obs":-8.07,"mod":-2.47},{"obs":-7.52,"mod":-2.47},{"obs":-6.97,"mod":-2.47},{"obs":-6.42,"mod":-2.47},{"obs":-5.87,"mod":-2.47},{"obs":-5.32,"mod":-2.47},{"obs":-4.77,"mod":-2.47},{"obs":-4.22,"mod":-2.47},{"obs":-3.67,"mod":-2.47},{"obs":-3.12,"mod":-2.47},{"obs":-2.57,"mod":-2.47},
{"obs":-8.72,"mod":-2.92},{"obs":-8.17,"mod":-2.92},{"obs":-7.62,"mod":-2.92},{"obs":-7.07,"mod":-2.92},{"obs":-6.52,"mod":-2.92},{"obs":-5.97,"mod":-2.92},{"obs":-5.42,"mod":-2.92},{"obs":-4.87,"mod":-2.92},{"obs":-4.32,"mod":-2.92},{"obs":-3.77,"mod":-2.92},{"obs":-3.22,"mod":-2.92},{"obs":-2.7,"mod":-2.92},
{"obs":-8.87,"mod":-3.37},{"obs":-8.32,"mod":-3.37},{"obs":-7.77,"mod":-3.37},{"obs":-7.22,"mod":-3.37},{"obs":-6.67,"mod":-3.37},{"obs":-6.12,"mod":-3.37},{"obs":-5.57,"mod":-3.37},{"obs":-5.02,"mod":-3.37},{"obs":-4.47,"mod":-3.37},{"obs":-3.92,"mod":-3.37},{"obs":-3.37,"mod":-3.37},
{"obs":-9.52,"mod":-3.82},{"obs":-8.97,"mod":-3.82},{"obs":-8.42,"mod":-3.82},{"obs":-7.87,"mod":-3.82},{"obs":-7.32,"mod":-3.82},{"obs":-6.77,"mod":-3.82},{"obs":-6.22,"mod":-3.82},{"obs":-5.67,"mod":-3.82},{"obs":-5.12,"mod":-3.82},{"obs":-4.57,"mod":-3.82},{"obs":-4.02,"mod":-3.82},{"obs":-3.52,"mod":-3.82},
{"obs":-9.67,"mod":-4.27},{"obs":-9.12,"mod":-4.27},{"obs":-8.57,"mod":-4.27},{"obs":-8.02,"mod":-4.27},{"obs":-7.47,"mod":-4.27},{"obs":-6.92,"mod":-4.27},{"obs":-6.37,"mod":-4.27},{"obs":-5.82,"mod":-4.27},{"obs":-5.27,"mod":-4.27},{"obs":-4.72,"mod":-4.27},{"obs":-4.17,"mod":-4.27},
{"obs":-10.22,"mod":-4.72},{"obs":-9.67,"mod":-4.72},{"obs":-9.12,"mod":-4.72},{"obs":-8.57,"mod":-4.72},{"obs":-8.02,"mod":-4.72},{"obs":-7.47,"mod":-4.72},{"obs":-6.92,"mod":-4.72},{"obs":-6.37,"mod":-4.72},{"obs":-5.82,"mod":-4.72},{"obs":-5.27,"mod":-4.72},{"obs":-4.72,"mod":-4.72},
{"obs":-10.27,"mod":-5.17},{"obs":-9.72,"mod":-5.17},{"obs":-9.17,"mod":-5.17},{"obs":-8.62,"mod":-5.17},{"obs":-8.07,"mod":-5.17},{"obs":-7.52,"mod":-5.17},{"obs":-6.97,"mod":-5.17},{"obs":-6.42,"mod":-5.17},{"obs":-5.87,"mod":-5.17},{"obs":-5.32,"mod":-5.17},{"obs":-4.77,"mod":-5.17},
{"obs":-10.72,"mod":-5.62},{"obs":-10.17,"mod":-5.62},{"obs":-9.62,"mod":-5.62},{"obs":-9.07,"mod":-5.62},{"obs":-8.52,"mod":-5.62},{"obs":-7.97,"mod":-5.62},{"obs":-7.42,"mod":-5.62},{"obs":-6.87,"mod":-5.62},{"obs":-6.32,"mod":-5.62},{"obs":-5.77,"mod":-5.62},{"obs":-5.22,"mod":-5.62},
{"obs":-10.77,"mod":-6.07},{"obs":-10.22,"mod":-6.07},{"obs":-9.67,"mod":-6.07},{"obs":-9.12,"mod":-6.07},{"obs":-8.57,"mod":-6.07},{"obs":-8.02,"mod":-6.07},{"obs":-7.47,"mod":-6.07},{"obs":-6.92,"mod":-6.07},{"obs":-6.37,"mod":-6.07},{"obs":-5.82,"mod":-6.07},
{"obs":-11.32,"mod":-6.52},{"obs":-10.77,"mod":-6.52},{"obs":-10.22,"mod":-6.52},{"obs":-9.67,"mod":-6.52},{"obs":-9.12,"mod":-6.52},{"obs":-8.57,"mod":-6.52},{"obs":-8.02,"mod":-6.52},{"obs":-7.47,"mod":-6.52},{"obs":-6.92,"mod":-6.52},{"obs":-6.37,"mod":-6.52},{"obs":-5.85,"mod":-6.52},
{"obs":-11.27,"mod":-6.97},{"obs":-10.72,"mod":-6.97},{"obs":-10.17,"mod":-6.97},{"obs":-9.62,"mod":-6.97},{"obs":-9.07,"mod":-6.97},{"obs":-8.52,"mod":-6.97},{"obs":-7.97,"mod":-6.97},{"obs":-7.42,"mod":-6.97},{"obs":-6.87,"mod":-6.97},{"obs":-6.32,"mod":-6.97},
{"obs":-11.72,"mod":-7.42},{"obs":-11.17,"mod":-7.42},{"obs":-10.62,"mod":-7.42},{"obs":-10.07,"mod":-7.42},{"obs":-9.52,"mod":-7.42},{"obs":-8.97,"mod":-7.42},{"obs":-8.42,"mod":-7.42},{"obs":-7.87,"mod":-7.42},{"obs":-7.32,"mod":-7.42},{"obs":-6.77,"mod":-7.42},
{"obs":-11.67,"mod":-7.87},{"obs":-11.12,"mod":-7.87},{"obs":-10.57,"mod":-7.87},{"obs":-10.02,"mod":-7.87},{"obs":-9.47,"mod":-7.87},{"obs":-8.92,"mod":-7.87},{"obs":-8.37,"mod":-7.87},{"obs":-7.82,"mod":-7.87},{"obs":-7.27,"mod":-7.87},
{"obs":-12.12,"mod":-8.32},{"obs":-11.57,"mod":-8.32},{"obs":-11.02,"mod":-8.32},{"obs":-10.47,"mod":-8.32},{"obs":-9.92,"mod":-8.32},{"obs":-9.37,"mod":-8.32},{"obs":-8.82,"mod":-8.32},{"obs":-8.27,"mod":-8.32},{"obs":-7.72,"mod":-8.32},
{"obs":-12.07,"mod":-8.77},{"obs":-11.52,"mod":-8.77},{"obs":-10.97,"mod":-8.77},{"obs":-10.42,"mod":-8.77},{"obs":-9.87,"mod":-8.77},{"obs":-9.32,"mod":-8.77},{"obs":-8.77,"mod":-8.77},{"obs":-8.22,"mod":-8.77},{"obs":-7.67,"mod":-8.77},
{"obs":-12.52,"mod":-9.22},{"obs":-11.97,"mod":-9.22},{"obs":-11.42,"mod":-9.22},{"obs":-10.87,"mod":-9.22},{"obs":-10.32,"mod":-9.22},{"obs":-9.77,"mod":-9.22},{"obs":-9.22,"mod":-9.22},{"obs":-8.67,"mod":-9.22},{"obs":-8.12,"mod":-9.22},
{"obs":-12.47,"mod":-9.67},{"obs":-11.92,"mod":-9.67},{"obs":-11.37,"mod":-9.67},{"obs":-10.82,"mod":-9.67},{"obs":-10.27,"mod":-9.67},{"obs":-9.72,"mod":-9.67},{"obs":-9.17,"mod":-9.67},{"obs":-8.62,"mod":-9.67},
{"obs":-12.92,"mod":-10.12},{"obs":-12.37,"mod":-10.12},{"obs":-11.82,"mod":-10.12},{"obs":-11.27,"mod":-10.12},{"obs":-10.72,"mod":-10.12},{"obs":-10.17,"mod":-10.12},{"obs":-9.62,"mod":-10.12},{"obs":-9.12,"mod":-10.12},
{"obs":-12.87,"mod":-10.57},{"obs":-12.32,"mod":-10.57},{"obs":-11.77,"mod":-10.57},{"obs":-11.22,"mod":-10.57},{"obs":-10.67,"mod":-10.57},{"obs":-10.12,"mod":-10.57},
{"obs":-13.52,"mod":-11.02},{"obs":-12.97,"mod":-11.02},{"obs":-12.42,"mod":-11.02},{"obs":-11.87,"mod":-11.02},{"obs":-11.32,"mod":-11.02},{"obs":-10.77,"mod":-11.02},
{"obs":-13.57,"mod":-11.47},{"obs":-13.02,"mod":-11.47},{"obs":-12.47,"mod":-11.47},{"obs":-11.92,"mod":-11.47},{"obs":-11.37,"mod":-11.47},
{"obs":-14.12,"mod":-11.92},{"obs":-13.57,"mod":-11.92},{"obs":-13.02,"mod":-11.92},{"obs":-12.47,"mod":-11.92},{"obs":-11.92,"mod":-11.92},
{"obs":-14.07,"mod":-12.37},{"obs":-13.52,"mod":-12.37},{"obs":-12.97,"mod":-12.37},{"obs":-12.42,"mod":-12.37},
{"obs":-14.62,"mod":-12.82},{"obs":-14.07,"mod":-12.82},{"obs":-13.52,"mod":-12.82},{"obs":-12.97,"mod":-12.82},
{"obs":-14.67,"mod":-13.27},{"obs":-14.12,"mod":-13.27},{"obs":-13.57,"mod":-13.27},
{"obs":-15.22,"mod":-13.72},{"obs":-14.67,"mod":-13.72},{"obs":-14.12,"mod":-13.72},
{"obs":-15.27,"mod":-14.17},{"obs":-14.72,"mod":-14.17},
{"obs":-15.72,"mod":-14.62},{"obs":-15.17,"mod":-14.62},
{"obs":-15.67,"mod":-15.07},{"obs":-16.12,"mod":-15.52},
{"obs":-11.3,"mod":-4.9},{"obs":-11.7,"mod":-6.1},{"obs":-12.5,"mod":-7.2},{"obs":-12.9,"mod":-8},{"obs":-13.4,"mod":-8.7},{"obs":-13.9,"mod":-9.5},{"obs":-14.8,"mod":-10.8},{"obs":-8.7,"mod":-1.9},{"obs":-7.9,"mod":-1},{"obs":-10,"mod":-3.2},{"obs":-13.7,"mod":-9.1},
{"obs":-2.8,"mod":-6.4},{"obs":-3.6,"mod":-7},{"obs":-4.6,"mod":-7.9},{"obs":-6,"mod":-9},{"obs":-6.8,"mod":-9.5},{"obs":-5.9,"mod":-9.4},{"obs":-7.6,"mod":-10.6},{"obs":-9.1,"mod":-11.4},{"obs":-9.9,"mod":-12},{"obs":-8.5,"mod":-12.8},{"obs":-9.1,"mod":-13.1},{"obs":-10.3,"mod":-13.5},{"obs":-10.7,"mod":-12.8},{"obs":-11.1,"mod":-12.8},{"obs":-11.4,"mod":-12.8},{"obs":-12.4,"mod":-12.8},{"obs":-13.1,"mod":-13.7},{"obs":-1.6,"mod":-2.3},{"obs":-0.8,"mod":-1.3},{"obs":-0.2,"mod":-0.5},{"obs":-5,"mod":-5.8},{"obs":-4.2,"mod":-4.9},{"obs":-8.2,"mod":-10.5},{"obs":-6.3,"mod":-7.7},
{"obs":-16.1,"mod":-13},{"obs":-16.5,"mod":-14.3},{"obs":-17,"mod":-14.9},{"obs":-17.1,"mod":-15.4},{"obs":-17.7,"mod":-16.3},{"obs":-18,"mod":-16.5},{"obs":-18.8,"mod":-17.6},{"obs":-18.4,"mod":-16.9},{"obs":-17.4,"mod":-17.1},{"obs":-15.9,"mod":-16.8},{"obs":-15.4,"mod":-16.9},{"obs":-16.2,"mod":-17.6},{"obs":-17.1,"mod":-17.9},{"obs":-17.6,"mod":-18.4},{"obs":-18,"mod":-18.8},{"obs":-18.8,"mod":-19.1},{"obs":-16.5,"mod":-17.9},{"obs":-17.4,"mod":-17.6},{"obs":-15.7,"mod":-17.4},{"obs":-16,"mod":-16.7},{"obs":-18.5,"mod":-19.3},{"obs":-18,"mod":-19},{"obs":-17.9,"mod":-19.7},
{"obs":-19.9,"mod":-20.1},{"obs":-18.8,"mod":-20.5},{"obs":-18.8,"mod":-21.9},{"obs":-19.1,"mod":-22.2},{"obs":-19.9,"mod":-23.2},{"obs":-20.4,"mod":-20.7},{"obs":-19.5,"mod":-20},{"obs":-19.2,"mod":-20.4},
{"obs":-22.2,"mod":-22},{"obs":-22,"mod":-21.8},{"obs":-21.9,"mod":-22.1},{"obs":-21.7,"mod":-21.7},{"obs":-21.6,"mod":-21.9},{"obs":-21.4,"mod":-21.5},{"obs":-21.3,"mod":-21.7},{"obs":-21.1,"mod":-21.3},{"obs":-21,"mod":-21.5},{"obs":-20.8,"mod":-21.1},{"obs":-20.7,"mod":-20.9},{"obs":-21.8,"mod":-21.5},{"obs":-22.1,"mod":-21.6},{"obs":-21.5,"mod":-21.2},{"obs":-20.9,"mod":-20.8}
],
"c":[
{"obs":-2.5,"mod":0},{"obs":-1.95,"mod":0},{"obs":-1.4,"mod":0},{"obs":-0.85,"mod":0},{"obs":-0.3,"mod":0},{"obs":0.2,"mod":0},
{"obs":-2.75,"mod":-0.45},{"obs":-2.2,"mod":-0.45},{"obs":-1.65,"mod":-0.45},{"obs":-1.1,"mod":-0.45},{"obs":-0.55,"mod":-0.45},{"obs":0,"mod":-0.45},
{"obs":-3.4,"mod":-0.9},{"obs":-2.85,"mod":-0.9},{"obs":-2.3,"mod":-0.9},{"obs":-1.75,"mod":-0.9},{"obs":-1.2,"mod":-0.9},{"obs":-0.65,"mod":-0.9},{"obs":-0.1,"mod":-0.9},{"obs":0.2,"mod":-0.9},
{"obs":-3.65,"mod":-1.35},{"obs":-3.1,"mod":-1.35},{"obs":-2.55,"mod":-1.35},{"obs":-2,"mod":-1.35},{"obs":-1.45,"mod":-1.35},{"obs":-0.9,"mod":-1.35},{"obs":-0.35,"mod":-1.35},{"obs":0.15,"mod":-1.35},
{"obs":-4.4,"mod":-1.8},{"obs":-3.85,"mod":-1.8},{"obs":-3.3,"mod":-1.8},{"obs":-2.75,"mod":-1.8},{"obs":-2.2,"mod":-1.8},{"obs":-1.65,"mod":-1.8},{"obs":-1.1,"mod":-1.8},{"obs":-0.55,"mod":-1.8},{"obs":0,"mod":-1.8},
{"obs":-4.65,"mod":-2.25},{"obs":-4.1,"mod":-2.25},{"obs":-3.55,"mod":-2.25},{"obs":-3,"mod":-2.25},{"obs":-2.45,"mod":-2.25},{"obs":-1.9,"mod":-2.25},{"obs":-1.35,"mod":-2.25},{"obs":-0.8,"mod":-2.25},{"obs":-0.25,"mod":-2.25},{"obs":0.1,"mod":-2.25},
{"obs":-5.4,"mod":-2.7},{"obs":-4.85,"mod":-2.7},{"obs":-4.3,"mod":-2.7},{"obs":-3.75,"mod":-2.7},{"obs":-3.2,"mod":-2.7},{"obs":-2.65,"mod":-2.7},{"obs":-2.1,"mod":-2.7},{"obs":-1.55,"mod":-2.7},{"obs":-1,"mod":-2.7},{"obs":-0.45,"mod":-2.7},
{"obs":-5.65,"mod":-3.15},{"obs":-5.1,"mod":-3.15},{"obs":-4.55,"mod":-3.15},{"obs":-4,"mod":-3.15},{"obs":-3.45,"mod":-3.15},{"obs":-2.9,"mod":-3.15},{"obs":-2.35,"mod":-3.15},{"obs":-1.8,"mod":-3.15},{"obs":-1.25,"mod":-3.15},{"obs":-0.7,"mod":-3.15},
{"obs":-6.4,"mod":-3.6},{"obs":-5.85,"mod":-3.6},{"obs":-5.3,"mod":-3.6},{"obs":-4.75,"mod":-3.6},{"obs":-4.2,"mod":-3.6},{"obs":-3.65,"mod":-3.6},{"obs":-3.1,"mod":-3.6},{"obs":-2.55,"mod":-3.6},{"obs":-2,"mod":-3.6},{"obs":-1.45,"mod":-3.6},
{"obs":-6.65,"mod":-4.05},{"obs":-6.1,"mod":-4.05},{"obs":-5.55,"mod":-4.05},{"obs":-5,"mod":-4.05},{"obs":-4.45,"mod":-4.05},{"obs":-3.9,"mod":-4.05},{"obs":-3.35,"mod":-4.05},{"obs":-2.8,"mod":-4.05},{"obs":-2.25,"mod":-4.05},{"obs":-1.7,"mod":-4.05},
{"obs":-7.4,"mod":-4.5},{"obs":-6.85,"mod":-4.5},{"obs":-6.3,"mod":-4.5},{"obs":-5.75,"mod":-4.5},{"obs":-5.2,"mod":-4.5},{"obs":-4.65,"mod":-4.5},{"obs":-4.1,"mod":-4.5},{"obs":-3.55,"mod":-4.5},{"obs":-3,"mod":-4.5},{"obs":-2.45,"mod":-4.5},
{"obs":-7.65,"mod":-4.95},{"obs":-7.1,"mod":-4.95},{"obs":-6.55,"mod":-4.95},{"obs":-6,"mod":-4.95},{"obs":-5.45,"mod":-4.95},{"obs":-4.9,"mod":-4.95},{"obs":-4.35,"mod":-4.95},{"obs":-3.8,"mod":-4.95},{"obs":-3.25,"mod":-4.95},{"obs":-2.7,"mod":-4.95},
{"obs":-8.3,"mod":-5.4},{"obs":-7.75,"mod":-5.4},{"obs":-7.2,"mod":-5.4},{"obs":-6.65,"mod":-5.4},{"obs":-6.1,"mod":-5.4},{"obs":-5.55,"mod":-5.4},{"obs":-5,"mod":-5.4},{"obs":-4.45,"mod":-5.4},{"obs":-3.9,"mod":-5.4},{"obs":-3.35,"mod":-5.4},
{"obs":-8.35,"mod":-5.85},{"obs":-7.8,"mod":-5.85},{"obs":-7.25,"mod":-5.85},{"obs":-6.7,"mod":-5.85},{"obs":-6.15,"mod":-5.85},{"obs":-5.6,"mod":-5.85},{"obs":-5.05,"mod":-5.85},{"obs":-4.5,"mod":-5.85},{"obs":-3.95,"mod":-5.85},{"obs":-3.4,"mod":-5.85},
{"obs":-8.9,"mod":-6.3},{"obs":-8.35,"mod":-6.3},{"obs":-7.8,"mod":-6.3},{"obs":-7.25,"mod":-6.3},{"obs":-6.7,"mod":-6.3},{"obs":-6.15,"mod":-6.3},{"obs":-5.6,"mod":-6.3},{"obs":-5.05,"mod":-6.3},{"obs":-4.5,"mod":-6.3},{"obs":-3.95,"mod":-6.3},
{"obs":-9.05,"mod":-6.75},{"obs":-8.5,"mod":-6.75},{"obs":-7.95,"mod":-6.75},{"obs":-7.4,"mod":-6.75},{"obs":-6.85,"mod":-6.75},{"obs":-6.3,"mod":-6.75},{"obs":-5.75,"mod":-6.75},{"obs":-5.2,"mod":-6.75},{"obs":-4.65,"mod":-6.75},{"obs":-4.1,"mod":-6.75},
{"obs":-9.7,"mod":-7.2},{"obs":-9.15,"mod":-7.2},{"obs":-8.6,"mod":-7.2},{"obs":-8.05,"mod":-7.2},{"obs":-7.5,"mod":-7.2},{"obs":-6.95,"mod":-7.2},{"obs":-6.4,"mod":-7.2},{"obs":-5.85,"mod":-7.2},{"obs":-5.3,"mod":-7.2},{"obs":-4.75,"mod":-7.2},
{"obs":-9.75,"mod":-7.65},{"obs":-9.2,"mod":-7.65},{"obs":-8.65,"mod":-7.65},{"obs":-8.1,"mod":-7.65},{"obs":-7.55,"mod":-7.65},{"obs":-7,"mod":-7.65},{"obs":-6.45,"mod":-7.65},{"obs":-5.9,"mod":-7.65},{"obs":-5.35,"mod":-7.65},
{"obs":-10.4,"mod":-8.1},{"obs":-9.85,"mod":-8.1},{"obs":-9.3,"mod":-8.1},{"obs":-8.75,"mod":-8.1},{"obs":-8.2,"mod":-8.1},{"obs":-7.65,"mod":-8.1},{"obs":-7.1,"mod":-8.1},{"obs":-6.55,"mod":-8.1},{"obs":-6,"mod":-8.1},
{"obs":-10.45,"mod":-8.55},{"obs":-9.9,"mod":-8.55},{"obs":-9.35,"mod":-8.55},{"obs":-8.8,"mod":-8.55},{"obs":-8.25,"mod":-8.55},{"obs":-7.7,"mod":-8.55},{"obs":-7.15,"mod":-8.55},{"obs":-6.6,"mod":-8.55},
{"obs":-11,"mod":-9},{"obs":-10.45,"mod":-9},{"obs":-9.9,"mod":-9},{"obs":-9.35,"mod":-9},{"obs":-8.8,"mod":-9},{"obs":-8.25,"mod":-9},{"obs":-7.7,"mod":-9},{"obs":-7.15,"mod":-9},
{"obs":-11.05,"mod":-9.45},{"obs":-10.5,"mod":-9.45},{"obs":-9.95,"mod":-9.45},{"obs":-9.4,"mod":-9.45},{"obs":-8.85,"mod":-9.45},{"obs":-8.3,"mod":-9.45},{"obs":-7.75,"mod":-9.45},
{"obs":-11.6,"mod":-9.9},{"obs":-11.05,"mod":-9.9},{"obs":-10.5,"mod":-9.9},{"obs":-9.95,"mod":-9.9},{"obs":-9.4,"mod":-9.9},{"obs":-8.85,"mod":-9.9},{"obs":-8.3,"mod":-9.9},
{"obs":-11.75,"mod":-10.35},{"obs":-11.2,"mod":-10.35},{"obs":-10.65,"mod":-10.35},{"obs":-10.1,"mod":-10.35},{"obs":-9.55,"mod":-10.35},{"obs":-9,"mod":-10.35},
{"obs":-12.3,"mod":-10.8},{"obs":-11.75,"mod":-10.8},{"obs":-11.2,"mod":-10.8},{"obs":-10.65,"mod":-10.8},{"obs":-10.1,"mod":-10.8},{"obs":-9.55,"mod":-10.8},
{"obs":-12.45,"mod":-11.25},{"obs":-11.9,"mod":-11.25},{"obs":-11.35,"mod":-11.25},{"obs":-10.8,"mod":-11.25},{"obs":-10.25,"mod":-11.25},
{"obs":-13,"mod":-11.7},{"obs":-12.45,"mod":-11.7},{"obs":-11.9,"mod":-11.7},{"obs":-11.35,"mod":-11.7},{"obs":-10.8,"mod":-11.7},
{"obs":-13.15,"mod":-12.15},{"obs":-12.6,"mod":-12.15},{"obs":-12.05,"mod":-12.15},{"obs":-11.5,"mod":-12.15},
{"obs":-13.8,"mod":-12.6},{"obs":-13.25,"mod":-12.6},{"obs":-12.7,"mod":-12.6},{"obs":-12.15,"mod":-12.6},{"obs":-11.6,"mod":-12.6},
{"obs":-13.95,"mod":-13.05},{"obs":-13.4,"mod":-13.05},{"obs":-12.85,"mod":-13.05},{"obs":-12.3,"mod":-13.05},
{"obs":-14.6,"mod":-13.5},{"obs":-14.05,"mod":-13.5},{"obs":-13.5,"mod":-13.5},{"obs":-12.95,"mod":-13.5},
{"obs":-14.65,"mod":-13.95},{"obs":-14.1,"mod":-13.95},{"obs":-13.55,"mod":-13.95},
{"obs":-15.2,"mod":-14.4},{"obs":-14.65,"mod":-14.4},{"obs":-14.1,"mod":-14.4},
{"obs":-15.4,"mod":-14.85},{"obs":-14.85,"mod":-14.85},{"obs":-14.35,"mod":-14.85},
{"obs":-15.9,"mod":-15.3},{"obs":-15.35,"mod":-15.3},{"obs":-14.85,"mod":-15.3},
{"obs":-16.05,"mod":-15.75},{"obs":-15.5,"mod":-15.75},
{"obs":-2.22,"mod":-0.22},{"obs":-1.67,"mod":-0.22},{"obs":-1.12,"mod":-0.22},{"obs":-0.57,"mod":-0.22},{"obs":-0.05,"mod":-0.22},
{"obs":-2.47,"mod":-0.67},{"obs":-1.92,"mod":-0.67},{"obs":-1.37,"mod":-0.67},{"obs":-0.82,"mod":-0.67},{"obs":-0.27,"mod":-0.67},
{"obs":-3.12,"mod":-1.12},{"obs":-2.57,"mod":-1.12},{"obs":-2.02,"mod":-1.12},{"obs":-1.47,"mod":-1.12},{"obs":-0.92,"mod":-1.12},{"obs":-0.37,"mod":-1.12},
{"obs":-3.37,"mod":-1.57},{"obs":-2.82,"mod":-1.57},{"obs":-2.27,"mod":-1.57},{"obs":-1.72,"mod":-1.57},{"obs":-1.17,"mod":-1.57},{"obs":-0.62,"mod":-1.57},{"obs":-0.1,"mod":-1.57},
{"obs":-4.12,"mod":-2.02},{"obs":-3.57,"mod":-2.02},{"obs":-3.02,"mod":-2.02},{"obs":-2.47,"mod":-2.02},{"obs":-1.92,"mod":-2.02},{"obs":-1.37,"mod":-2.02},{"obs":-0.82,"mod":-2.02},{"obs":-0.27,"mod":-2.02},
{"obs":-4.37,"mod":-2.47},{"obs":-3.82,"mod":-2.47},{"obs":-3.27,"mod":-2.47},{"obs":-2.72,"mod":-2.47},{"obs":-2.17,"mod":-2.47},{"obs":-1.62,"mod":-2.47},{"obs":-1.07,"mod":-2.47},{"obs":-0.52,"mod":-2.47},
{"obs":-5.12,"mod":-2.92},{"obs":-4.57,"mod":-2.92},{"obs":-4.02,"mod":-2.92},{"obs":-3.47,"mod":-2.92},{"obs":-2.92,"mod":-2.92},{"obs":-2.37,"mod":-2.92},{"obs":-1.82,"mod":-2.92},{"obs":-1.27,"mod":-2.92},{"obs":-0.72,"mod":-2.92},
{"obs":-5.37,"mod":-3.37},{"obs":-4.82,"mod":-3.37},{"obs":-4.27,"mod":-3.37},{"obs":-3.72,"mod":-3.37},{"obs":-3.17,"mod":-3.37},{"obs":-2.62,"mod":-3.37},{"obs":-2.07,"mod":-3.37},{"obs":-1.52,"mod":-3.37},{"obs":-0.97,"mod":-3.37},
{"obs":-6.12,"mod":-3.82},{"obs":-5.57,"mod":-3.82},{"obs":-5.02,"mod":-3.82},{"obs":-4.47,"mod":-3.82},{"obs":-3.92,"mod":-3.82},{"obs":-3.37,"mod":-3.82},{"obs":-2.82,"mod":-3.82},{"obs":-2.27,"mod":-3.82},{"obs":-1.72,"mod":-3.82},
{"obs":-6.37,"mod":-4.27},{"obs":-5.82,"mod":-4.27},{"obs":-5.27,"mod":-4.27},{"obs":-4.72,"mod":-4.27},{"obs":-4.17,"mod":-4.27},{"obs":-3.62,"mod":-4.27},{"obs":-3.07,"mod":-4.27},{"obs":-2.52,"mod":-4.27},{"obs":-1.97,"mod":-4.27},
{"obs":-7.12,"mod":-4.72},{"obs":-6.57,"mod":-4.72},{"obs":-6.02,"mod":-4.72},{"obs":-5.47,"mod":-4.72},{"obs":-4.92,"mod":-4.72},{"obs":-4.37,"mod":-4.72},{"obs":-3.82,"mod":-4.72},{"obs":-3.27,"mod":-4.72},{"obs":-2.72,"mod":-4.72},
{"obs":-7.37,"mod":-5.17},{"obs":-6.82,"mod":-5.17},{"obs":-6.27,"mod":-5.17},{"obs":-5.72,"mod":-5.17},{"obs":-5.17,"mod":-5.17},{"obs":-4.62,"mod":-5.17},{"obs":-4.07,"mod":-5.17},{"obs":-3.52,"mod":-5.17},{"obs":-2.97,"mod":-5.17},
{"obs":-8.02,"mod":-5.62},{"obs":-7.47,"mod":-5.62},{"obs":-6.92,"mod":-5.62},{"obs":-6.37,"mod":-5.62},{"obs":-5.82,"mod":-5.62},{"obs":-5.27,"mod":-5.62},{"obs":-4.72,"mod":-5.62},{"obs":-4.17,"mod":-5.62},{"obs":-3.62,"mod":-5.62},
{"obs":-8.07,"mod":-6.07},{"obs":-7.52,"mod":-6.07},{"obs":-6.97,"mod":-6.07},{"obs":-6.42,"mod":-6.07},{"obs":-5.87,"mod":-6.07},{"obs":-5.32,"mod":-6.07},{"obs":-4.77,"mod":-6.07},{"obs":-4.22,"mod":-6.07},{"obs":-3.67,"mod":-6.07},
{"obs":-8.62,"mod":-6.52},{"obs":-8.07,"mod":-6.52},{"obs":-7.52,"mod":-6.52},{"obs":-6.97,"mod":-6.52},{"obs":-6.42,"mod":-6.52},{"obs":-5.87,"mod":-6.52},{"obs":-5.32,"mod":-6.52},{"obs":-4.77,"mod":-6.52},{"obs":-4.22,"mod":-6.52},
{"obs":-8.77,"mod":-6.97},{"obs":-8.22,"mod":-6.97},{"obs":-7.67,"mod":-6.97},{"obs":-7.12,"mod":-6.97},{"obs":-6.57,"mod":-6.97},{"obs":-6.02,"mod":-6.97},{"obs":-5.47,"mod":-6.97},{"obs":-4.92,"mod":-6.97},{"obs":-4.37,"mod":-6.97},
{"obs":-9.42,"mod":-7.42},{"obs":-8.87,"mod":-7.42},{"obs":-8.32,"mod":-7.42},{"obs":-7.77,"mod":-7.42},{"obs":-7.22,"mod":-7.42},{"obs":-6.67,"mod":-7.42},{"obs":-6.12,"mod":-7.42},{"obs":-5.57,"mod":-7.42},{"obs":-5.02,"mod":-7.42},
{"obs":-9.47,"mod":-7.87},{"obs":-8.92,"mod":-7.87},{"obs":-8.37,"mod":-7.87},{"obs":-7.82,"mod":-7.87},{"obs":-7.27,"mod":-7.87},{"obs":-6.72,"mod":-7.87},{"obs":-6.17,"mod":-7.87},{"obs":-5.62,"mod":-7.87},
{"obs":-10.12,"mod":-8.32},{"obs":-9.57,"mod":-8.32},{"obs":-9.02,"mod":-8.32},{"obs":-8.47,"mod":-8.32},{"obs":-7.92,"mod":-8.32},{"obs":-7.37,"mod":-8.32},{"obs":-6.82,"mod":-8.32},{"obs":-6.27,"mod":-8.32},
{"obs":-10.17,"mod":-8.77},{"obs":-9.62,"mod":-8.77},{"obs":-9.07,"mod":-8.77},{"obs":-8.52,"mod":-8.77},{"obs":-7.97,"mod":-8.77},{"obs":-7.42,"mod":-8.77},{"obs":-6.87,"mod":-8.77},
{"obs":-10.72,"mod":-9.22},{"obs":-10.17,"mod":-9.22},{"obs":-9.62,"mod":-9.22},{"obs":-9.07,"mod":-9.22},{"obs":-8.52,"mod":-9.22},{"obs":-7.97,"mod":-9.22},{"obs":-7.42,"mod":-9.22},
{"obs":-10.77,"mod":-9.67},{"obs":-10.22,"mod":-9.67},{"obs":-9.67,"mod":-9.67},{"obs":-9.12,"mod":-9.67},{"obs":-8.57,"mod":-9.67},{"obs":-8.02,"mod":-9.67},
{"obs":-11.32,"mod":-10.12},{"obs":-10.77,"mod":-10.12},{"obs":-10.22,"mod":-10.12},{"obs":-9.67,"mod":-10.12},{"obs":-9.12,"mod":-10.12},{"obs":-8.57,"mod":-10.12},
{"obs":-11.47,"mod":-10.57},{"obs":-10.92,"mod":-10.57},{"obs":-10.37,"mod":-10.57},{"obs":-9.82,"mod":-10.57},{"obs":-9.27,"mod":-10.57},
{"obs":-12.02,"mod":-11.02},{"obs":-11.47,"mod":-11.02},{"obs":-10.92,"mod":-11.02},{"obs":-10.37,"mod":-11.02},{"obs":-9.82,"mod":-11.02},
{"obs":-12.17,"mod":-11.47},{"obs":-11.62,"mod":-11.47},{"obs":-11.07,"mod":-11.47},{"obs":-10.52,"mod":-11.47},
{"obs":-12.72,"mod":-11.92},{"obs":-12.17,"mod":-11.92},{"obs":-11.62,"mod":-11.92},{"obs":-11.07,"mod":-11.92},
{"obs":-12.87,"mod":-12.37},{"obs":-12.32,"mod":-12.37},{"obs":-11.77,"mod":-12.37},
{"obs":-13.52,"mod":-12.82},{"obs":-12.97,"mod":-12.82},{"obs":-12.42,"mod":-12.82},{"obs":-11.87,"mod":-12.82},
{"obs":-13.67,"mod":-13.27},{"obs":-13.12,"mod":-13.27},{"obs":-12.57,"mod":-13.27},
{"obs":-14.32,"mod":-13.72},{"obs":-13.77,"mod":-13.72},{"obs":-13.22,"mod":-13.72},
{"obs":-14.37,"mod":-14.17},{"obs":-13.82,"mod":-14.17},
{"obs":-14.92,"mod":-14.62},{"obs":-14.37,"mod":-14.62},
{"obs":-15.12,"mod":-15.07},{"obs":-14.6,"mod":-15.07},
{"obs":-15.62,"mod":-15.52},{"obs":-15.1,"mod":-15.52},{"obs":-15.77,"mod":-15.97},
{"obs":-0.9,"mod":-3.8},{"obs":-1.4,"mod":-5.1},{"obs":-3.3,"mod":-6.2},{"obs":-4.2,"mod":-7.2},{"obs":0.2,"mod":-2.7},{"obs":-0.3,"mod":-3.3},{"obs":-1,"mod":-4.3},{"obs":-2,"mod":-5.2},{"obs":-2.6,"mod":-5.9},{"obs":-3.7,"mod":-6.7},{"obs":-4.6,"mod":-7.8},{"obs":-5.3,"mod":-8.2},{"obs":-6.5,"mod":-8.3},{"obs":-7.3,"mod":-9.2},{"obs":-8,"mod":-10},{"obs":-8.6,"mod":-10.6},{"obs":-9.2,"mod":-11.3},{"obs":-10,"mod":-11.9},{"obs":-11.5,"mod":-13.1},{"obs":-11.9,"mod":-12.8},
{"obs":-4.9,"mod":-1.8},{"obs":-6.1,"mod":-2.7},{"obs":-7.2,"mod":-3.8},{"obs":-8.4,"mod":-5.2},{"obs":-9,"mod":-5.8},{"obs":-9.8,"mod":-7.2},{"obs":-10.7,"mod":-8},{"obs":-11.9,"mod":-9.2},{"obs":-12.4,"mod":-10.4},{"obs":-13.3,"mod":-11.4},{"obs":-13.9,"mod":-11.7},{"obs":-14.7,"mod":-13.1},{"obs":-5.6,"mod":-2.2},{"obs":-6.8,"mod":-3.2},{"obs":-7.9,"mod":-4.5},
{"obs":-16.1,"mod":-14.6},{"obs":-16.4,"mod":-15.4},{"obs":-16.9,"mod":-15.9},{"obs":-17.4,"mod":-16.3},{"obs":-17.5,"mod":-16.7},{"obs":-17.8,"mod":-17.3},{"obs":-17.6,"mod":-16.9},{"obs":-18.9,"mod":-18.5},{"obs":-18.7,"mod":-19},{"obs":-18.8,"mod":-18.4},{"obs":-18.5,"mod":-18.8},{"obs":-16.2,"mod":-17.9},{"obs":-15.4,"mod":-17},{"obs":-15.8,"mod":-16},{"obs":-17.9,"mod":-17.4},
{"obs":-19,"mod":-20.4},{"obs":-18.7,"mod":-20.7},{"obs":-19.5,"mod":-20.8},{"obs":-18.9,"mod":-21.7},{"obs":-19.8,"mod":-23},{"obs":-20.6,"mod":-21.1},{"obs":-19.9,"mod":-20.2},{"obs":-19.3,"mod":-20},
{"obs":-22.1,"mod":-22},{"obs":-21.9,"mod":-21.7},{"obs":-21.8,"mod":-22.1},{"obs":-21.6,"mod":-21.8},{"obs":-21.5,"mod":-21.5},{"obs":-21.3,"mod":-21.7},{"obs":-21.2,"mod":-21.3},{"obs":-21,"mod":-21.5},{"obs":-20.9,"mod":-21.1},{"obs":-20.7,"mod":-21.2},{"obs":-20.5,"mod":-20.9},{"obs":-20.3,"mod":-21},{"obs":-22,"mod":-21.5},{"obs":-21.7,"mod":-21.4},{"obs":-21.1,"mod":-21}
]
},
"hconcat":[
{"width":274.5,"height":273,
"layer":[
{"data":{"name":"diag"},"mark":{"type":"line","color":"#404040","strokeWidth":1.5,"clip":true},
"encoding":{"x":{"field":"obs","type":"quantitative","scale":{"domain":[-24.2,1.15],"nice":false,"zero":false},"axis":{"values":[-20,-15,-10,-5,0],"title":null}},
"y":{"field":"mod","type":"quantitative","scale":{"domain":[-24.25,1.15],"nice":false,"zero":false},"axis":{"values":[0,-5,-10,-15,-20],"title":"Modelled surface temperature (˚C)","titlePadding":1}}}},
{"data":{"name":"a"},"mark":{"type":"point","filled":false,"size":52,"strokeWidth":1.5,"opacity":1},
"encoding":{"x":{"field":"obs","type":"quantitative"},"y":{"field":"mod","type":"quantitative"},
"color":{"datum":"oldrunoff_oldalbedo","scale":{"domain":["oldrunoff_oldalbedo","RMSE = 2.47"],"range":["#0173B2","transparent"]},"legend":{"title":null,"orient":"none","legendX":43,"legendY":220,"zindex":1}}}},
{"data":{"values":[{"label":"(a)"}]},"mark":{"type":"text","align":"left","baseline":"middle","font":"DejaVu Serif","fontWeight":"bold","fontSize":12.5,"color":"black"},
"encoding":{"x":{"datum":-22.9},"y":{"datum":-0.1},"text":{"field":"label"}}}
]},
{"width":274,"height":273,
"layer":[
{"data":{"name":"diag"},"mark":{"type":"line","color":"#404040","strokeWidth":1.5,"clip":true},
"encoding":{"x":{"field":"obs","type":"quantitative","scale":{"domain":[-24.2,1.15],"nice":false,"zero":false},"axis":{"values":[-20,-15,-10,-5,0],"title":"Observed surface temperature (˚C)","titleX":117,"titleY":44,"titleBaseline":"alphabetic"}},
"y":{"field":"mod","type":"quantitative","scale":{"domain":[-24.25,1.15],"nice":false,"zero":false},"axis":{"values":[0,-5,-10,-15,-20],"labels":false,"title":null}}}},
{"data":{"name":"b"},"mark":{"type":"point","filled":false,"size":52,"strokeWidth":1.5,"opacity":1},
"encoding":{"x":{"field":"obs","type":"quantitative"},"y":{"field":"mod","type":"quantitative"},
"color":{"datum":"newrunoff_oldalbedo","scale":{"domain":["newrunoff_oldalbedo","RMSE = 2.36"],"range":["#029E73","transparent"]},"legend":{"title":null,"orient":"none","legendX":39.5,"legendY":220,"zindex":1}}}},
{"data":{"values":[{"label":"(b)"}]},"mark":{"type":"text","align":"left","baseline":"middle","font":"DejaVu Serif","fontWeight":"bold","fontSize":12.5,"color":"black"},
"encoding":{"x":{"datum":-22.9},"y":{"datum":-0.1},"text":{"field":"label"}}}
]},
{"width":274,"height":273,
"layer":[
{"data":{"name":"diag"},"mark":{"type":"line","color":"#404040","strokeWidth":1.5,"clip":true},
"encoding":{"x":{"field":"obs","type":"quantitative","scale":{"domain":[-24.2,1.15],"nice":false,"zero":false},"axis":{"values":[-20,-15,-10,-5,0],"title":null}},
"y":{"field":"mod","type":"quantitative","scale":{"domain":[-24.25,1.15],"nice":false,"zero":false},"axis":{"values":[0,-5,-10,-15,-20],"labels":false,"title":null}}}},
{"data":{"name":"c"},"mark":{"type":"point","filled":false,"size":52,"strokeWidth":1.5,"opacity":1},
"encoding":{"x":{"field":"obs","type":"quantitative"},"y":{"field":"mod","type":"quantitative"},
"color":{"datum":"newrunoff_newalbedo","scale":{"domain":["newrunoff_newalbedo","RMSE = 0.95"],"range":["#D55E00","transparent"]},"legend":{"title":null,"orient":"none","legendX":36,"legendY":220,"zindex":1}}}},
{"data":{"values":[{"label":"(c)"}]},"mark":{"type":"text","align":"left","baseline":"middle","font":"DejaVu Serif","fontWeight":"bold","fontSize":12.5,"color":"black"},
"encoding":{"x":{"datum":-22.9},"y":{"datum":-0.1},"text":{"field":"label"}}}
]}
],
"resolve":{"scale":{"color":"independent","x":"independent","y":"independent"},"legend":{"color":"independent"}}
}
